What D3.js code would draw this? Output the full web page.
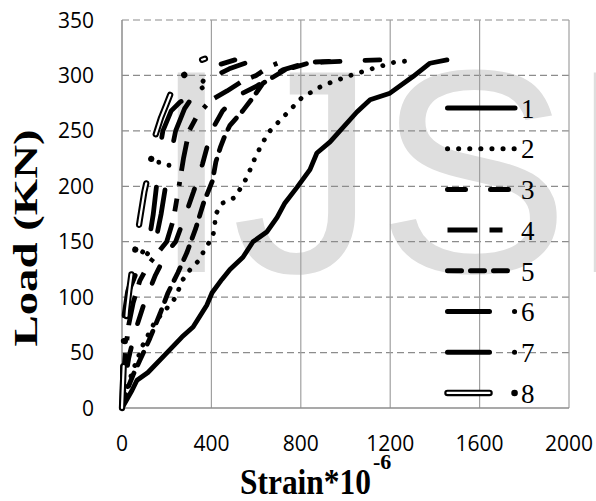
<!DOCTYPE html>
<html>
<head>
<meta charset="utf-8">
<script src="https://cdn.jsdelivr.net/npm/d3@7"></script>
<style>
  body { margin: 0; background: #fff; }
  svg { display: block; }
</style>
</head>
<body>
<div id="chart"></div>
<script>
// load vs strain curves (strain*10^-6, load kN)
var s1 = [[0,0],[45,16],[67,25],[116,32],[192,48],[268,64],[318,73],[380,93],[403,104],[447,116],[483,125],[541,136],[586,150],[649,159],[694,172],[729,185],[783,199],[841,215],[872,230],[931,240],[1051,267],[1110,278],[1199,284],[1302,299],[1378,311],[1454,314]]
var s2 = [[0,0],[18,16],[49,34],[94,57],[148,78],[201,90],[237,99],[273,116],[309,126],[349,134],[371,144],[403,153],[416,163],[416,174],[452,185],[506,190],[559,208],[600,228],[653,248],[729,264],[805,280],[899,291],[1007,299],[1118,306],[1221,312],[1275,313]]
var s3 = [[0,0],[10,20],[30,45],[60,70],[100,95],[150,120],[200,140],[240,150],[280,172],[320,195],[360,220],[400,250],[450,268],[520,282],[600,290],[660,298],[720,305],[800,310],[900,312],[1000,313],[1154,314]]
var s4 = [[0,0],[5,25],[15,50],[30,75],[50,95],[80,115],[120,130],[160,140],[200,150],[230,170],[255,200],[275,225],[300,250],[340,265],[400,278],[470,286],[540,295],[600,300],[660,308],[720,313]]
var s5 = [[0,0],[20,15],[50,30],[80,43],[125,63],[170,85],[206,104],[250,122],[290,140],[330,162],[365,185],[405,205],[420,222],[440,235],[461,246],[483,255],[540,268],[586,280],[631,293],[729,305],[850,312],[966,313]]
var s6 = [[0,0],[3,30],[8,60],[15,85],[30,105],[60,120],[100,135],[150,150],[175,175],[195,200],[215,225],[240,250],[280,270],[330,285],[380,300],[440,310],[505,314]]
var s7 = [[0,0],[2,30],[5,60],[10,85],[25,105],[50,120],[90,140],[120,150],[140,175],[160,210],[170,235],[183,250],[220,268],[260,276],[320,283],[380,292],[420,300],[480,306],[550,311]]
var s8 = [[0,0],[8,40],[15,70],[22,88],[35,110],[45,125],[58,141],[80,170],[100,195],[112,206],[125,218],[148,245],[175,262],[201,275],[230,290],[260,298],[291,302],[304,309],[340,313],[371,315]]

var seriesNames = ['1','2','3','4','5','6','7','8']
var seriesData = [s1, s2, s3, s4, s5, s6, s7, s8]

var xTicks = [0, 400, 800, 1200, 1600, 2000]
var yTicks = [0, 50, 100, 150, 200, 250, 300, 350]

var svgW = 596
var svgH = 501
var plotL = 122, plotR = 569, plotT = 20, plotB = 408

// line patterns for each series
var styles = [
  {dash: null, cap: 'round'},
  {dash: '0.1,11', cap: 'round'},
  {dash: '18,25', cap: 'round'},
  {dash: '30,12,13,13,4,11', cap: 'butt'},
  {dash: '14,9', cap: 'round'},
  {dash: '42,25,0.1,25', cap: 'round'},
  {dash: '42,25,0.1,25', cap: 'round'},
  {dash: '42,25,0.1,25', cap: 'round', hollow: true}
]

var svg = d3.select('#chart').append('svg')
  .attr('width', svgW)
  .attr('height', svgH)

svg.append('rect').attr('width', svgW).attr('height', svgH).attr('fill', '#fff')

// watermark behind everything
svg.append('text')
  .attr('x', 151)
  .attr('y', 272)
  .style('font-family', '"Liberation Sans", Arial, sans-serif')
  .style('font-size', '290px')
  .attr('fill', '#dedede')
  .text('IJSER')

var x = d3.scaleLinear().domain([0, 2000]).range([plotL, plotR])
var y = d3.scaleLinear().domain([0, 350]).range([plotB, plotT])

// grid
svg.selectAll('.hgrid')
  .data(yTicks.filter(function(d) { return d > 0 }))
  .enter().append('line')
    .attr('x1', plotL).attr('x2', plotR)
    .attr('y1', function(d) { return y(d) }).attr('y2', function(d) { return y(d) })
    .attr('stroke', '#8c8c8c')
    .attr('stroke-width', 1.2)
    .attr('stroke-dasharray', '7,4')

svg.selectAll('.vgrid')
  .data(xTicks.filter(function(d) { return d > 0 }))
  .enter().append('line')
    .attr('y1', plotT).attr('y2', plotB)
    .attr('x1', function(d) { return x(d) }).attr('x2', function(d) { return x(d) })
    .attr('stroke', '#a0a0a0')
    .attr('stroke-width', 1.2)

// axis lines
svg.append('line').attr('x1', plotL).attr('x2', plotL).attr('y1', plotT).attr('y2', plotB)
  .attr('stroke', '#8c8c8c').attr('stroke-width', 1.5)
svg.append('line').attr('x1', plotL).attr('x2', plotR).attr('y1', plotB).attr('y2', plotB)
  .attr('stroke', '#8c8c8c').attr('stroke-width', 1.5)

// tick labels
svg.selectAll('.ylab')
  .data(yTicks)
  .enter().append('text')
    .attr('x', 94)
    .attr('y', function(d) { return y(d) })
    .attr('dy', '0.36em')
    .attr('text-anchor', 'end')
    .style('font-family', '"Open Sans", sans-serif')
    .style('font-size', '21px')
    .attr('fill', '#000')
    .text(function(d) { return d })

svg.selectAll('.xlab')
  .data(xTicks)
  .enter().append('text')
    .attr('x', function(d) { return x(d) })
    .attr('y', 443)
    .attr('dy', '0.36em')
    .attr('text-anchor', 'middle')
    .style('font-family', '"Open Sans", sans-serif')
    .style('font-size', '21px')
    .attr('fill', '#000')
    .text(function(d) { return d })

// curves
var line = d3.line()
  .x(function(d) { return x(d[0]) })
  .y(function(d) { return y(d[1]) })

function drawStroke(g, dAttr, st, sw) {
  if (st.hollow) {
    g.append('path').attr('d', dAttr).attr('fill', 'none')
      .attr('stroke', '#000').attr('stroke-width', sw + 1.5)
      .attr('stroke-linecap', st.cap).attr('stroke-linejoin', 'round')
      .attr('stroke-dasharray', st.dash)
    g.append('path').attr('d', dAttr).attr('fill', 'none')
      .attr('stroke', '#fff').attr('stroke-width', 2.2)
      .attr('stroke-linecap', st.cap).attr('stroke-linejoin', 'round')
      .attr('stroke-dasharray', '42,50.1')
  } else {
    g.append('path').attr('d', dAttr).attr('fill', 'none')
      .attr('stroke', '#000').attr('stroke-width', sw)
      .attr('stroke-linecap', st.cap).attr('stroke-linejoin', 'round')
      .attr('stroke-dasharray', st.dash)
  }
}

var curves = svg.append('g')
seriesData.forEach(function(data, i) {
  drawStroke(curves, line(data), styles[i], 4.8)
})

// legend
var legend = svg.append('g')
seriesNames.forEach(function(name, i) {
  var ly = 108 + i * 40.7
  drawStroke(legend, 'M447.5,' + ly + 'H515', styles[i], 5)
  legend.append('text')
    .attr('x', 521)
    .attr('y', ly)
    .attr('dy', '0.36em')
    .style('font-family', '"Liberation Serif", "Times New Roman", serif')
    .style('font-size', '27px')
    .attr('fill', '#000')
    .text(name)
})

// axis titles
svg.append('text')
  .attr('transform', 'translate(37,238) rotate(-90)')
  .attr('text-anchor', 'middle')
  .attr('textLength', 217)
  .attr('lengthAdjust', 'spacingAndGlyphs')
  .style('font-family', '"Liberation Serif", "Times New Roman", serif')
  .style('font-size', '34px')
  .style('font-weight', 'bold')
  .text('Load (KN)')

svg.append('text')
  .attr('x', 240)
  .attr('y', 494)
  .attr('textLength', 131)
  .attr('lengthAdjust', 'spacingAndGlyphs')
  .style('font-family', '"Liberation Serif", "Times New Roman", serif')
  .style('font-size', '36px')
  .style('font-weight', 'bold')
  .text('Strain*10')

svg.append('text')
  .attr('x', 373)
  .attr('y', 469)
  .style('font-family', '"Liberation Serif", "Times New Roman", serif')
  .style('font-size', '22px')
  .style('font-weight', 'bold')
  .text('-6')
</script>
</body>
</html>
